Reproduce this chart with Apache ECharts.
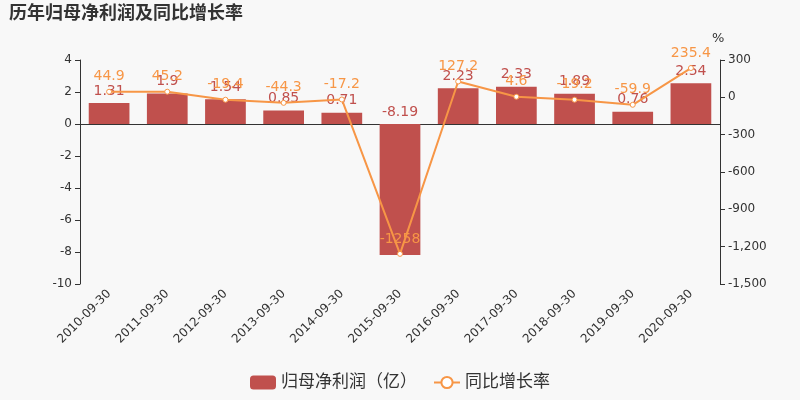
<!DOCTYPE html>
<html><head><meta charset="utf-8">
<script src="https://cdn.jsdelivr.net/npm/echarts@6/dist/echarts.min.js"></script>
<style>html,body{margin:0;padding:0;background:#f8f8f8;}#c{width:800px;height:400px;}</style>
</head><body><div id="c"></div>
<script>
const categories = ['2010-09-30','2011-09-30','2012-09-30','2013-09-30','2014-09-30','2015-09-30','2016-09-30','2017-09-30','2018-09-30','2019-09-30','2020-09-30'];
const profit = [1.31, 1.9, 1.54, 0.85, 0.71, -8.19, 2.23, 2.33, 1.89, 0.76, 2.54];
const growth = [44.9, 45.2, -19.4, -44.3, -17.2, -1258, 127.2, 4.6, -19.2, -59.9, 235.4];
const titleText = '历年归母净利润及同比增长率';
const barName = '归母净利润（亿）';
const lineName = '同比增长率';

const font = '"DejaVu Sans", "Noto Sans CJK SC", sans-serif';
const chart = echarts.init(document.getElementById('c'));
chart.setOption({
  backgroundColor: '#f8f8f8',
  textStyle: {fontFamily: font},
  title: {text: titleText, left: 4, top: 0, textStyle: {fontSize: 18, fontWeight: 'bold', color: '#333', fontFamily: font}},
  legend: {bottom: 4, itemWidth: 26, itemHeight: 14, itemGap: 16, textStyle: {fontSize: 17, color: '#333', fontFamily: font},
    data: [{name: barName, icon: 'roundRect'}, {name: lineName}]},
  grid: {left: 80, right: 80, top: 60, bottom: 116},
  xAxis: {type: 'category', data: categories,
    axisLine: {lineStyle: {color: '#333'}},
    axisTick: {lineStyle: {color: '#333'}},
    axisLabel: {rotate: 45, fontSize: 12, color: '#333', interval: 0, fontFamily: font}},
  yAxis: [
    {type: 'value', min: -10, max: 4, interval: 2, splitLine: {show: false},
      axisLine: {show: true, lineStyle: {color: '#333'}}, axisTick: {show: true},
      axisLabel: {fontSize: 12, color: '#333', fontFamily: font}},
    {type: 'value', name: '%', min: -1500, max: 300, interval: 300, splitLine: {show: false},
      nameTextStyle: {fontSize: 13, color: '#333', align: 'left', padding: [0,0,0,-8], fontFamily: font},
      axisLine: {show: true, lineStyle: {color: '#333'}}, axisTick: {show: true},
      axisLabel: {fontSize: 12, color: '#333', fontFamily: font}}
  ],
  series: [
    {name: barName, type: 'bar', data: profit, barWidth: '70%', yAxisIndex: 0,
      itemStyle: {color: '#c0504d'},
      label: {show: true, position: 'top', fontSize: 14, color: '#c0504d', fontFamily: font}},
    {name: lineName, type: 'line', data: growth, yAxisIndex: 1,
      symbol: 'circle', symbolSize: 5,
      lineStyle: {color: '#f79646', width: 2},
      itemStyle: {color: '#fff', borderColor: '#f79646', borderWidth: 1},
      label: {show: true, position: 'top', fontSize: 14, color: '#f79646', fontFamily: font}}
  ]
});
</script></body></html>
